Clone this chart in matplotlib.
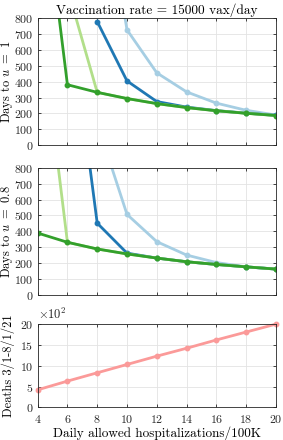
import numpy as np
import matplotlib
matplotlib.use("Agg")
import matplotlib.pyplot as plt

plt.rcParams['font.family'] = ['cmr10', 'DejaVu Serif']
plt.rcParams['mathtext.fontset'] = 'cm'
plt.rcParams['axes.formatter.use_mathtext'] = True
plt.rcParams['font.size'] = 9.5

# daily allowed hospitalizations per 100K
hosp = [4, 6, 8, 10, 12, 14, 16, 18, 20]

# days to u = 1
top_lightblue = [np.nan, np.nan, 1850, 727, 456, 336, 265, 220, 190]
top_darkblue = [np.nan, np.nan, 779, 405, 275, 240, 218, 202, 188]
top_lightgreen = [np.nan, 990, 333, 294, 262, 237, 217, 201, 187]
top_darkgreen = [1900, 381, 333, 294, 262, 237, 217, 201, 187]

# days to u = 0.8
mid_lightblue = [np.nan, np.nan, 1080, 507, 336, 252, 205, 178, 164]
mid_darkblue = [np.nan, 1890, 452, 264, 233, 210, 193, 178, 164]
mid_lightgreen = [1860, 332, 290, 259, 233, 210, 193, 178, 164]
mid_darkgreen = [390, 332, 290, 259, 233, 210, 193, 178, 164]

# deaths 3/1-8/1/21 (x100)
deaths = [4.2, 6.3, 8.3, 10.3, 12.3, 14.2, 16.2, 18.1, 20.0]

c_lb = '#a6cee3'
c_db = '#1f78b4'
c_lg = '#b2df8a'
c_dg = '#33a02c'
c_pk = '#fb9a99'

fig = plt.figure(figsize=(2.83, 4.4), dpi=100)
ax1 = fig.add_axes([0.133, 0.670, 0.842, 0.2886])
ax2 = fig.add_axes([0.133, 0.329, 0.842, 0.290])
ax3 = fig.add_axes([0.133, 0.0743, 0.842, 0.189])


def style(ax):
    ax.set_xlim(4, 20)
    ax.set_xticks(hosp)
    ax.grid(True, color='#e3e3e3', lw=0.6)
    ax.set_axisbelow(True)
    ax.tick_params(direction='in', length=2.5, width=0.6, top=True, right=True,
                   colors='#262626', labelsize=8.6)
    ax.tick_params(axis='y', pad=3)
    ax.tick_params(axis='x', pad=4)
    for s in ax.spines.values():
        s.set_color('#262626')
        s.set_linewidth(0.6)
    ax.yaxis.set_label_coords(-0.097, 0.5)


for ax, ys in [(ax1, [top_lightblue, top_darkblue, top_lightgreen, top_darkgreen]),
               (ax2, [mid_lightblue, mid_darkblue, mid_lightgreen, mid_darkgreen])]:
    for y, c in zip(ys, [c_lb, c_db, c_lg, c_dg]):
        ax.plot(hosp, y, color=c, lw=2.0, marker='o', ms=3.2, clip_on=True)
    style(ax)
    ax.set_ylim(0, 800)
    ax.set_yticks(range(0, 801, 100))
    ax.set_xticklabels([])

ax1.set_ylabel(r'Days to $u\ =\ 1$', fontsize=9)
ax2.set_ylabel(r'Days to $u\ =\ 0.8$', fontsize=9)
ax1.set_title('Vaccination rate = 15000 vax/day', fontsize=9.6, pad=3)

ax3.plot(hosp, deaths, color=c_pk, lw=2.0, marker='o', ms=3.2, clip_on=False)
style(ax3)
ax3.set_ylim(0, 20)
ax3.set_yticks([0, 5, 10, 15, 20])
ax3.set_ylabel('Deaths 3/1-8/1/21', fontsize=9)
ax3.yaxis.set_label_coords(-0.095, 0.5)
ax3.set_xlabel('Daily allowed hospitalizations/100K', labelpad=1)
ax3.text(0.0, 1.02, r'$\times 10^2$', transform=ax3.transAxes, fontsize=9,
         va='bottom', ha='left', color='#262626')

fig.savefig('out.png', dpi=100)
